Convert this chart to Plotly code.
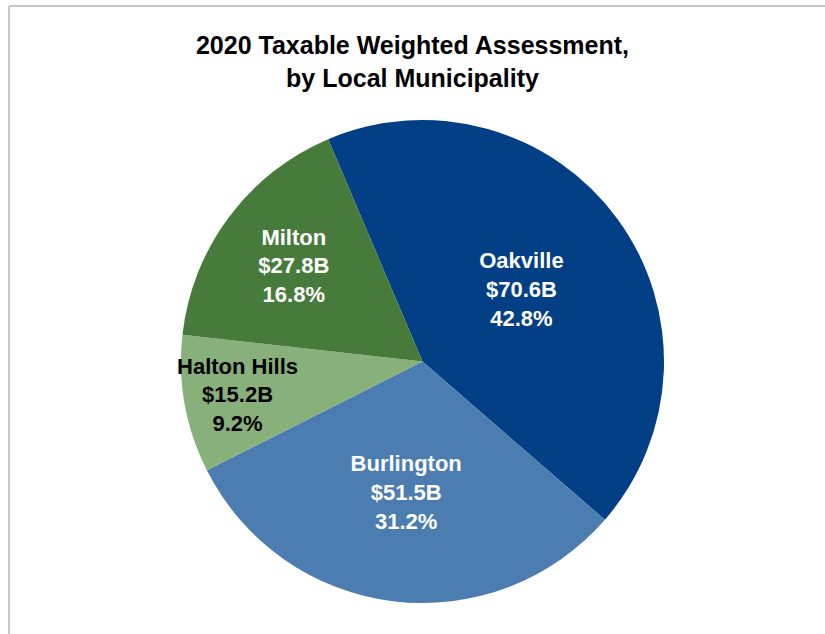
import plotly.graph_objects as go

municipalities = ["Oakville", "Burlington", "Halton Hills", "Milton"]
assessment_billions = [70.6, 51.5, 15.2, 27.8]
slice_colors = ["#033F84", "#4B7DB1", "#88B07A", "#477B3B"]
label_colors = ["white", "white", "black", "white"]

W, H = 825, 634

fig = go.Figure(
    go.Pie(
        labels=municipalities,
        values=assessment_billions,
        sort=False,
        direction="clockwise",
        rotation=-23,
        marker={"colors": slice_colors, "line": {"width": 0}},
        texttemplate="%{label}<br>$%{value:.1f}B<br>%{percent:.1%}",
        textposition="inside",
        insidetextorientation="horizontal",
        textfont={"family": "Liberation Sans, Arial, sans-serif", "size": 22, "color": label_colors, "weight": "bold"},
        hoverinfo="label+value+percent",
        showlegend=False,
        domain={"x": [180 / W, 665 / W], "y": [1 - 603 / H, 1 - 120 / H]},
    )
)

# light grey chart frame (left and top edges)
fig.add_shape(type="line", xref="paper", yref="paper", x0=9 / W, x1=9 / W, y0=0, y1=1 - 6 / H,
              line={"color": "#C8C8C8", "width": 2})
fig.add_shape(type="line", xref="paper", yref="paper", x0=9 / W, x1=1, y0=1 - 6 / H, y1=1 - 6 / H,
              line={"color": "#C8C8C8", "width": 2})

fig.update_layout(
    title={
        "text": "<b>2020 Taxable Weighted Assessment,<br>by Local Municipality</b>",
        "x": 0.5,
        "xanchor": "center",
        "y": 1 - 54 / H,
        "yanchor": "top",
        "font": {"family": "Liberation Sans, Arial, sans-serif", "size": 25, "color": "black"},
    },
    width=W,
    height=H,
    margin={"l": 0, "r": 0, "t": 0, "b": 0},
    paper_bgcolor="white",
    plot_bgcolor="white",
    uniformtext={"minsize": 22, "mode": "show"},
)

fig.write_html(
    "out.html",
    config={"displayModeBar": False},
    post_script="document.body.style.margin = '0';",
)
